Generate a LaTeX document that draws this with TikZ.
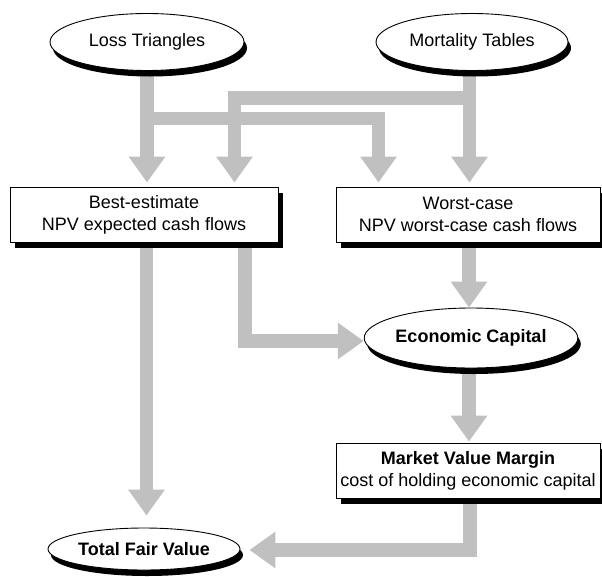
\documentclass[tikz,border=0pt]{standalone}
\usepackage{fontspec}
\setmainfont{Liberation Sans}
\usetikzlibrary{shapes.geometric,shadows,arrows.meta,calc}
\definecolor{flowgray}{RGB}{192,192,192}
\pgfdeclarelayer{bg}
\pgfsetlayers{bg,main}
\begin{document}
\begin{tikzpicture}[x=1pt,y=-1pt,
  font=\fontsize{18}{22}\selectfont,
  flow/.style={draw=flowgray, line width=13.5pt, line join=miter,
    -{Triangle[width=35pt,length=26pt,fill=flowgray]}},
  oval/.style={ellipse, draw, line width=0.9pt, fill=white, inner sep=0pt,
    drop shadow={shadow xshift=3pt, shadow yshift=-6pt, fill=black, opacity=1}},
  card/.style={rectangle, draw, line width=0.9pt, fill=white, inner sep=0pt, align=center,
    drop shadow={shadow xshift=5pt, shadow yshift=-6pt, fill=black, opacity=1}}]
\useasboundingbox (0,0) rectangle (602,576);

\node[oval, minimum width=194pt, minimum height=57pt] (loss) at (147,42) {Loss Triangles};
\node[oval, minimum width=192pt, minimum height=57pt] (mort) at (472,42) {Mortality Tables};
\node[card, minimum width=268pt, minimum height=55pt] (best) at (144,214.5) {Best-estimate\\NPV expected cash flows};
\node[card, minimum width=264pt, minimum height=55pt] (worst) at (468,214.5) {Worst-case\\NPV worst-case cash flows};
\node[oval, minimum width=198pt, minimum height=60pt] (econ) at (471,338) {\bfseries Economic Capital};
\node[card, minimum width=264pt, minimum height=55pt] (mvm) at (468,470.5) {\bfseries Market Value Margin\\cost of holding economic capital};
\node[oval, minimum width=192pt, minimum height=42pt] (tfv) at (144,549) {\bfseries Total Fair Value};

\coordinate (jA) at (378.5,118.5);
\coordinate (jB) at (234.5,98);
\coordinate (jC) at (245,341);
\coordinate (jD) at (470,550);

\begin{pgfonlayer}{bg}
\draw[flow, shorten >=4pt] (loss.south) -- (loss.south |- best.north);
\draw[flow, shorten >=4pt] (loss.south) |- (jA) -- (jA |- worst.north);
\draw[flow, shorten >=4pt] ([xshift=-2.5pt]mort.south) -- ([xshift=-2.5pt]mort.south |- worst.north);
\draw[flow, shorten >=4pt] ([xshift=-2.5pt]mort.south) |- (jB) -- (jB |- best.north);
\draw[flow, shorten >=12pt] ([xshift=2.5pt]best.south) -- ([xshift=2.5pt]best.south |- tfv.north);
\draw[flow] (jC |- best.south) -- (jC) -- (jC -| econ.west);
\draw[flow] ([xshift=1pt]worst.south) -- ([xshift=1pt]worst.south |- econ.north);
\draw[flow, shorten >=1pt] ([xshift=-2pt]econ.south) -- ([xshift=-2pt]econ.south |- mvm.north);
\draw[flow, shorten >=9pt] (jD |- mvm.south) -- (jD) -- (jD -| tfv.east);
\end{pgfonlayer}
\end{tikzpicture}
\end{document}
